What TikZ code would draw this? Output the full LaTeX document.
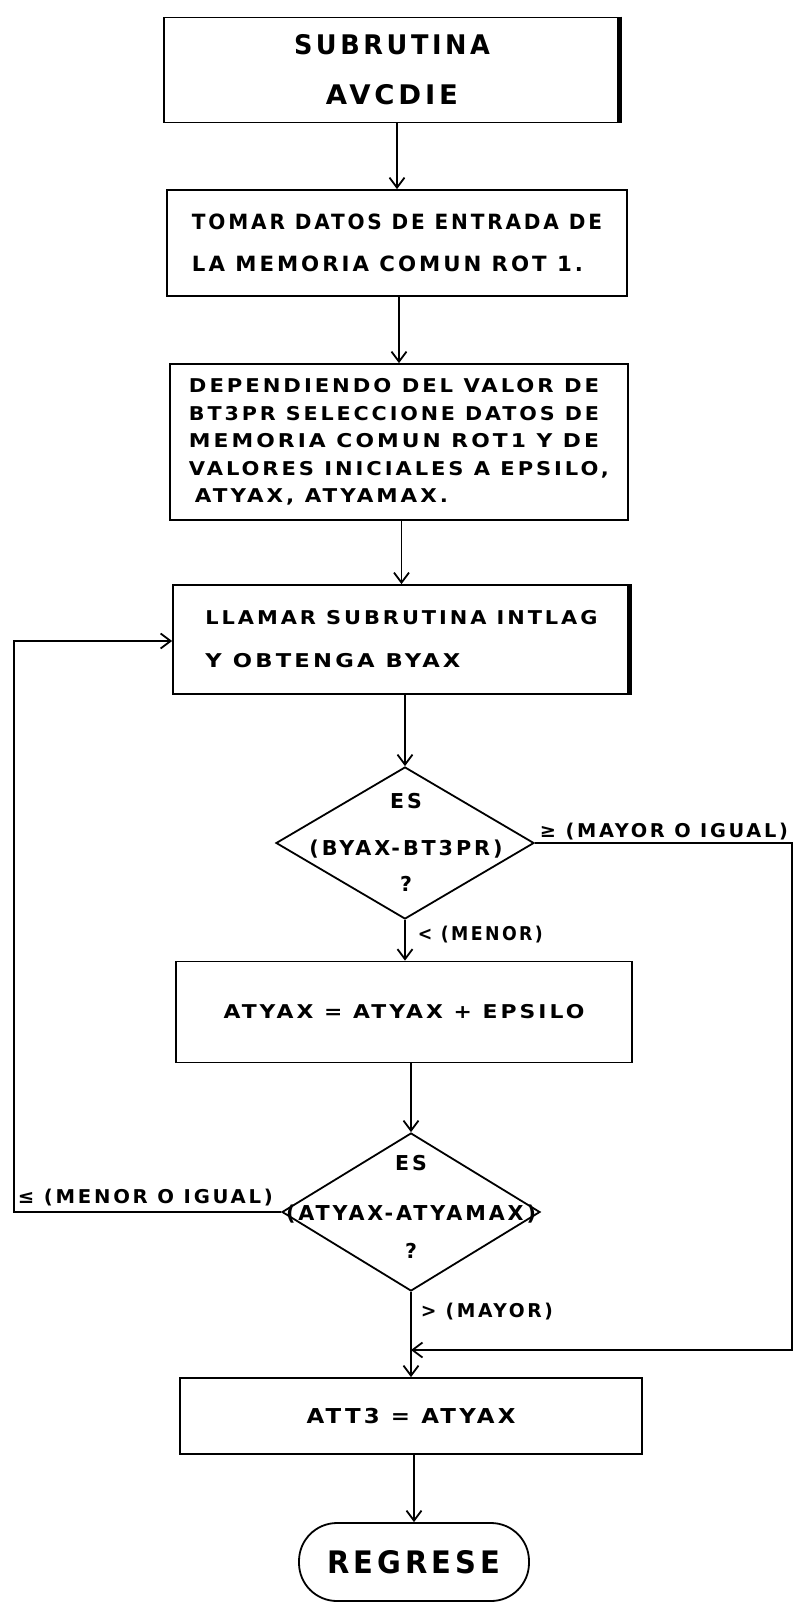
\documentclass[tikz,border=0pt]{standalone}
\usepackage{graphicx}
\usepackage{fontspec}
\setmainfont{DejaVu Sans}[LetterSpace=14]
\usetikzlibrary{arrows.meta,shapes.geometric}
% a line of lettering scaled horizontally to a given width
\newcommand\fitw[2]{\resizebox{#1}{\height}{#2}}
\begin{document}
\begin{tikzpicture}[x=1pt,y=-1pt,
  line width=1.8pt,
  box/.style={draw, rectangle, inner sep=0pt},
  dia/.style={draw, diamond, inner sep=0pt},
  dtext/.style={inner sep=0pt, align=center, font=\bfseries\fontsize{20.5}{30}\selectfont},
  arr/.style={-{Straight Barb[length=10pt,width=15pt,line width=1.8pt]}},
  lab/.style={inner sep=0pt, font=\bfseries\fontsize{19}{19}\selectfont},
  thick edge/.style={line width=5pt}
]
\useasboundingbox (0,0) rectangle (797,1603);

% process boxes
\node[box, minimum width=456pt, minimum height=105pt, align=center,
      font=\bfseries\fontsize{27}{50}\selectfont] (b1) at (392,70)
  {\fitw{196pt}{SUBRUTINA}\\\fitw{132pt}{AVCDIE}};
\node[box, minimum width=460pt, minimum height=106pt, align=left,
      font=\bfseries\fontsize{21}{42}\selectfont] (b2) at (397,243)
  {\fitw{410pt}{TOMAR DATOS DE ENTRADA DE}\\\fitw{391pt}{LA MEMORIA COMUN ROT 1.}};
\node[box, minimum width=458pt, minimum height=156pt, align=left,
      font=\bfseries\fontsize{19}{27.5}\selectfont] (b3) at (399,442)
  {\fitw{410pt}{DEPENDIENDO DEL VALOR DE}\\
   \fitw{410pt}{BT3PR SELECCIONE DATOS DE}\\
   \fitw{410pt}{MEMORIA COMUN ROT1 Y DE}\\
   \fitw{420pt}{VALORES INICIALES A EPSILO,}\\
   \hspace*{6pt}\fitw{253pt}{ATYAX, ATYAMAX.}};
\node[box, minimum width=457pt, minimum height=109pt, align=left,
      font=\bfseries\fontsize{19}{43}\selectfont] (b4) at (401.5,639.5)
  {\fitw{392pt}{LLAMAR SUBRUTINA INTLAG}\\\fitw{255pt}{Y OBTENGA BYAX}};

% first decision
\node[dia, minimum width=258pt, minimum height=152pt] (d1) at (405,843) {};
\node[dtext] (d1t) at (406,842) {ES\\[17pt]\fitw{193pt}{(BYAX-BT3PR)}\\[6pt]?};

\node[box, minimum width=456pt, minimum height=101pt,
      font=\bfseries\fontsize{19}{19}\selectfont] (b5) at (404,1012)
  {\fitw{361pt}{ATYAX = ATYAX + EPSILO}};

% second decision
\node[dia, minimum width=258pt, minimum height=158pt] (d2) at (411,1212) {};
\node[dtext] (d2t) at (411,1207) {ES\\[20pt]\fitw{250pt}{(ATYAX-ATYAMAX)}\\[8pt]?};

\node[box, minimum width=462pt, minimum height=76pt,
      font=\bfseries\fontsize{20.5}{20.5}\selectfont] (b6) at (411,1416)
  {\fitw{209pt}{ATT3 = ATYAX}};
\node[box, rounded corners=38pt, minimum width=230pt, minimum height=78pt,
      font=\bfseries\fontsize{31}{31}\selectfont] (b7) at (414,1562)
  {\fitw{173pt}{REGRESE}};

% heavy right edges
\draw[thick edge] ([xshift=-1pt]b1.north east) -- ([xshift=-1pt]b1.south east);
\draw[thick edge] ([xshift=-1pt]b4.north east) -- ([xshift=-1pt]b4.south east);

% main flow
\draw[arr] (b1.south -| b2.north) -- (b2.north);
\draw[arr] (b2.south -| b3.north) -- (b3.north);
\draw[arr] (b3.south -| b4.north) -- (b4.north);
\draw[arr] (b4.south -| d1.north) -- (d1.north);
\draw[arr] (d1.south) -- (d1.south |- b5.north);
\draw[arr] (b5.south -| d2.north) -- (d2.north);
\draw[arr] (d2.south) -- (b6.north);
\draw[arr] (b6.south -| b7.north) -- (b7.north);

% loop back and bypass
\coordinate (lc) at (14,641);
\coordinate (rc) at (792,1350);
\draw[arr] (d2.west) -| (lc) -- (lc -| b4.west);
\draw[arr] (d1.east) -| (rc) -- (rc -| b6.north);

% branch labels
\node[lab, anchor=west] (lge) at (539,832) {\fitw{248pt}{≥ (MAYOR O IGUAL)}};
\node[lab, anchor=west] (llt) at (417,935) {\fitw{125pt}{< (MENOR)}};
\node[lab, anchor=west] (lle) at (17,1198) {\fitw{255pt}{≤ (MENOR O IGUAL)}};
\node[lab, anchor=west] (lgt) at (420,1312) {\fitw{132pt}{> (MAYOR)}};
\end{tikzpicture}
\end{document}
